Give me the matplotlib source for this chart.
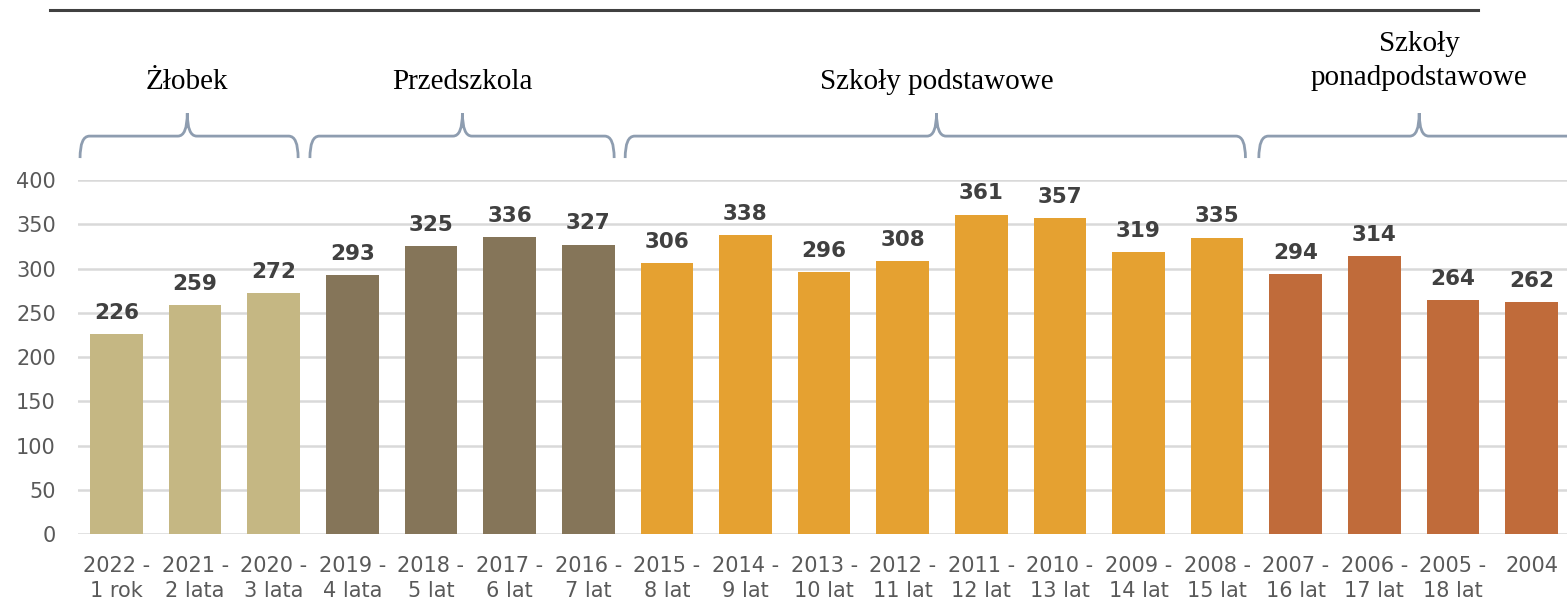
import matplotlib
matplotlib.use("Agg")
import matplotlib.pyplot as plt
from matplotlib.path import Path
from matplotlib.patches import PathPatch
import matplotlib.transforms as mtransforms
import matplotlib.lines as mlines

years = ["2022", "2021", "2020", "2019", "2018", "2017", "2016", "2015", "2014", "2013",
         "2012", "2011", "2010", "2009", "2008", "2007", "2006", "2005", "2004"]
ages = ["1 rok", "2 lata", "3 lata", "4 lata", "5 lat", "6 lat", "7 lat", "8 lat", "9 lat",
        "10 lat", "11 lat", "12 lat", "13 lat", "14 lat", "15 lat", "16 lat", "17 lat", "18 lat", ""]
values = [226, 259, 272, 293, 325, 336, 327, 306, 338, 296, 308, 361, 357, 319, 335, 294, 314, 264, 262]
group_of_bar = [0, 0, 0, 1, 1, 1, 1, 2, 2, 2, 2, 2, 2, 2, 2, 3, 3, 3, 3]
group_names = ["Żłobek", "Przedszkola", "Szkoły podstawowe", "Szkoły\nponadpodstawowe"]
group_colors = ["#C5B783", "#857559", "#E5A131", "#C06B3A"]

tick_labels = [f"{y} -\n{a}" if a else y for y, a in zip(years, ages)]

fig = plt.figure(figsize=(15.67, 6.02), dpi=100)
ax = fig.add_axes([78 / 1567, 68 / 602, 1 - 78 / 1567, 354 / 602])

x = list(range(len(values)))
colors = [group_colors[g] for g in group_of_bar]
ax.bar(x, values, width=0.67, color=colors, zorder=3)

ax.set_ylim(0, 400)
ax.set_xlim(-0.49, 18.45)
ax.set_yticks(range(0, 401, 50))
ax.yaxis.grid(True, color="#D9D9D9", linewidth=1.8, zorder=0)
ax.set_axisbelow(True)
for s in ax.spines.values():
    s.set_visible(False)
ax.tick_params(axis="both", length=0)
ax.tick_params(axis="y", pad=16, labelsize=15, labelcolor="#595959")
ax.tick_params(axis="x", pad=15.5, labelsize=15, labelcolor="#595959")
ax.set_xticks(x)
ax.set_xticklabels(tick_labels, linespacing=1.35, fontfamily="DejaVu Sans")

for xi, v in zip(x, values):
    ax.annotate(str(v), (xi, v), xytext=(0, 8), textcoords="offset points",
                ha="center", va="bottom", fontsize=15.5, fontweight="bold",
                color="#404040", fontfamily="DejaVu Sans")

# braces: x in data units, y in axes fraction
trans = mtransforms.blended_transform_factory(ax.transData, ax.transAxes)
brace_spans = [(-0.464, 2.31, 0.90), (2.46, 6.33, 4.40), (6.47, 14.36, 10.43), (14.53, 18.60, 16.57)]
label_y = [1.277, 1.277, 1.277, 1.335]
line_sp = [1.2, 1.2, 1.2, 1.4]
yb, yh, yt = 1.062, 1.124, 1.189
d = 0.12
for (x0, x1, xt), name, ly, ls in zip(brace_spans, group_names, label_y, line_sp):
    verts = [
        (x0, yb), (x0, yh), (x0 + d, yh),
        (xt - d, yh),
        (xt, yh), (xt, yt),
        (xt, yh), (xt + d, yh),
        (x1 - d, yh),
        (x1, yh), (x1, yb),
    ]
    codes = [Path.MOVETO, Path.CURVE3, Path.CURVE3,
             Path.LINETO,
             Path.CURVE3, Path.CURVE3,
             Path.CURVE3, Path.CURVE3,
             Path.LINETO,
             Path.CURVE3, Path.CURVE3]
    patch = PathPatch(Path(verts, codes), transform=trans, facecolor="none",
                      edgecolor="#8E9DB0", linewidth=2.0, clip_on=False)
    ax.add_patch(patch)
    ax.text(xt, ly, name, transform=trans, ha="center", va="center",
            fontsize=21, fontfamily="Liberation Serif", color="#000000",
            linespacing=ls, clip_on=False)

fig.add_artist(mlines.Line2D([50 / 1567, 1478 / 1567], [1 - 10 / 602, 1 - 10 / 602],
                             color="#404040", linewidth=2.2))

fig.savefig("out.png", dpi=100)
